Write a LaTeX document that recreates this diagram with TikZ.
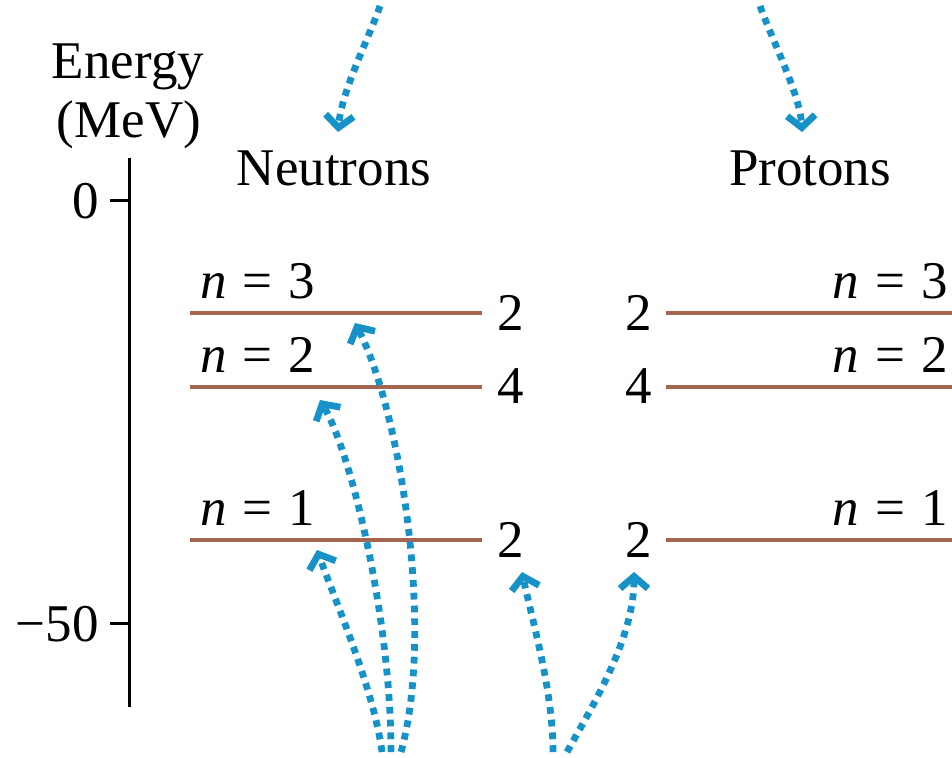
\documentclass[tikz,border=0pt]{standalone}
\usepackage{fontspec}
\setmainfont{Liberation Serif}
\usetikzlibrary{arrows.meta}
\definecolor{lvl}{RGB}{165,102,80}
\definecolor{arr}{RGB}{22,146,200}
\begin{document}
\begin{tikzpicture}[x=0.5pt,y=0.5pt,
  lbl/.style={inner sep=0pt,font=\fontsize{26.5}{31}\selectfont},
  level/.style={draw=lvl,line width=2.3pt},
  axisline/.style={draw=black,line width=1.5pt},
  flow/.style={draw=arr,line width=3.4pt,dash pattern=on 3.4pt off 3pt,
    -{Straight Barb[length=6pt,width=14pt]}}]
\useasboundingbox (0,0) rectangle (952,-757);
% axis
\coordinate (axtop) at (129,-158);
\coordinate (axbot) at (129,-707);
\coordinate (t0a) at (110,-200); \coordinate (t0b) at (129,-200);
\coordinate (t50a) at (110,-623); \coordinate (t50b) at (129,-623);
\draw[axisline] (axtop) -- (axbot);
\draw[axisline] (t0a) -- (t0b);
\draw[axisline] (t50a) -- (t50b);
\node[lbl,anchor=base] (energy) at (128,-78) {Energy};
\node[lbl,anchor=base] (mev) at (129,-137) {(MeV)};
\node[lbl,anchor=base east] (zero) at (99,-218) {0};
\node[lbl,anchor=base east] (fifty) at (99,-641) {−50};
% titles
\node[lbl,anchor=base] (neut) at (334,-185) {Neutrons};
\node[lbl,anchor=base] (prot) at (810,-185) {Protons};
% neutron levels
\coordinate (n3a) at (190,-313); \coordinate (n3b) at (482,-313);
\coordinate (n2a) at (190,-387); \coordinate (n2b) at (482,-387);
\coordinate (n1a) at (190,-540); \coordinate (n1b) at (482,-540);
\draw[level] (n3a) -- (n3b);
\draw[level] (n2a) -- (n2b);
\draw[level] (n1a) -- (n1b);
\node[lbl,anchor=base west] (nl3) at (200,-298) {\textit{n}\hspace{0.3em}=\hspace{0.3em}3};
\node[lbl,anchor=base west] (nl2) at (200,-372) {\textit{n}\hspace{0.3em}=\hspace{0.3em}2};
\node[lbl,anchor=base west] (nl1) at (200,-525) {\textit{n}\hspace{0.3em}=\hspace{0.3em}1};
\node[lbl,anchor=base west] (nd3) at (497,-330) {2};
\node[lbl,anchor=base west] (nd2) at (497,-403) {4};
\node[lbl,anchor=base west] (nd1) at (497,-557) {2};
% proton levels
\coordinate (p3a) at (666,-313); \coordinate (p3b) at (952,-313);
\coordinate (p2a) at (666,-387); \coordinate (p2b) at (952,-387);
\coordinate (p1a) at (666,-540); \coordinate (p1b) at (952,-540);
\draw[level] (p3a) -- (p3b);
\draw[level] (p2a) -- (p2b);
\draw[level] (p1a) -- (p1b);
\node[lbl,anchor=base east] (pl3) at (948,-298) {\textit{n}\hspace{0.3em}=\hspace{0.3em}3};
\node[lbl,anchor=base east] (pl2) at (948,-372) {\textit{n}\hspace{0.3em}=\hspace{0.3em}2};
\node[lbl,anchor=base east] (pl1) at (948,-525) {\textit{n}\hspace{0.3em}=\hspace{0.3em}1};
\node[lbl,anchor=base east] (pd3) at (652,-330) {2};
\node[lbl,anchor=base east] (pd2) at (652,-403) {4};
\node[lbl,anchor=base east] (pd1) at (652,-557) {2};
% top arrows
\coordinate (tls) at (380,-6); \coordinate (tle) at (338,-132);
\coordinate (trs) at (760,-6); \coordinate (tre) at (802,-132);
\draw[flow] (tls) .. controls (369,-38) and (342,-90) .. (tle);
\draw[flow] (trs) .. controls (773,-42) and (800,-95) .. (tre);
% bottom arrows (neutrons)
\coordinate (s1) at (382,-752); \coordinate (e1) at (317,-550);
\coordinate (s2) at (391,-752); \coordinate (e2) at (320,-400);
\coordinate (s3) at (401,-752); \coordinate (e3) at (355,-323);
\draw[flow] (s1) .. controls (374,-690) and (335,-600) .. (e1);
\draw[flow] (s2) .. controls (391,-620) and (352,-455) .. (e2);
\draw[flow] (s3) .. controls (435,-630) and (400,-410) .. (e3);
% bottom arrows (protons)
\coordinate (s4) at (553,-752); \coordinate (e4) at (522,-572);
\coordinate (s5) at (567,-752); \coordinate (e5) at (634,-572);
\draw[flow] (s4) .. controls (553,-690) and (532,-620) .. (e4);
\draw[flow] (s5) .. controls (590,-710) and (634,-640) .. (e5);
\end{tikzpicture}
\end{document}
